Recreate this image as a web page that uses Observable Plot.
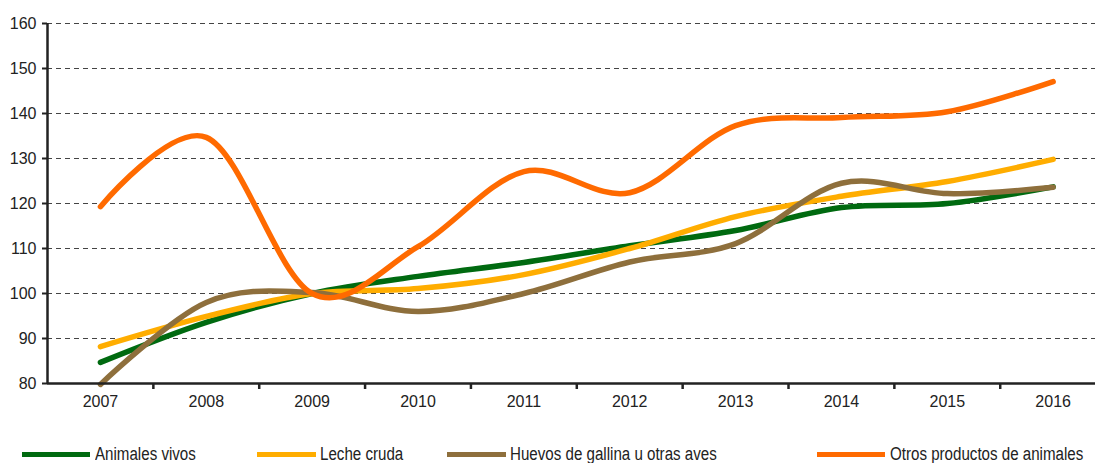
<!DOCTYPE html>
<html>
<head>
<meta charset="utf-8">
<script src="https://cdn.jsdelivr.net/npm/d3@7"></script>
<script src="https://cdn.jsdelivr.net/npm/@observablehq/plot@0.6"></script>
<style>
  html, body { margin: 0; padding: 0; background: #fff; }
  body { width: 1095px; height: 463px; overflow: hidden; position: relative;
         font-family: "Liberation Sans", Arial, sans-serif; }
  #chart { position: absolute; left: 0; top: 0; }
  .leg { position: absolute; top: 444px; font-size: 18px; color: #222; white-space: nowrap; line-height: 20px;
         transform: scaleX(0.84); transform-origin: left center; }
  .sw { position: absolute; top: 452px; height: 5px; }
</style>
</head>
<body>
<div id="chart"></div>
<div id="legend"></div>
<script>
const years = [2007, 2008, 2009, 2010, 2011, 2012, 2013, 2014, 2015, 2016];
const seriesNames = ["Animales vivos", "Leche cruda", "Huevos de gallina u otras aves", "Otros productos de animales"];
const animalesVivos = [84.7, 93.6, 100, 103.8, 106.9, 110.6, 114.0, 119.1, 120.0, 123.7];
const lecheCruda    = [88.2, 94.9, 100, 101.1, 104.2, 110.0, 117.1, 121.6, 124.9, 129.8];
const huevos        = [79.8, 98.0, 100.2, 96.0, 100.0, 107.0, 111.1, 124.5, 122.2, 123.6];
const otros         = [119.3, 134.7, 100.0, 110.4, 127.1, 122.4, 137.3, 139.1, 140.4, 147.1];
const colors = ["#006a10", "#ffad00", "#8e6f3c", "#ff6a00"];
const yTicks = [80, 90, 100, 110, 120, 130, 140, 150, 160];
const seriesValues = [animalesVivos, lecheCruda, huevos, otros];

const data = [];
seriesNames.forEach((name, i) => {
  years.forEach((yr, j) => data.push({series: name, year: yr, value: seriesValues[i][j]}));
});
const sepTicks = years.slice(0, -1).map(y => y + 0.5);

const chart = Plot.plot({
  width: 1095,
  height: 420,
  marginLeft: 47,
  marginRight: 0,
  marginTop: 23,
  marginBottom: 37,
  style: {fontFamily: '"Liberation Sans", Arial, sans-serif', fontSize: "16px", color: "#222", background: "white"},
  x: {domain: [2006.5, 2016.4], axis: null},
  y: {domain: [80, 160], axis: null},
  color: {domain: seriesNames, range: colors},
  marks: [
    Plot.ruleY(yTicks.filter(d => d > 80), {stroke: "#444", strokeWidth: 1, strokeDasharray: "5,4"}),
    Plot.lineY(data, {x: "year", y: "value", stroke: "series", z: "series", strokeWidth: 5.5, curve: "cardinal", tension: 0}),
    Plot.ruleY([80], {stroke: "#222", strokeWidth: 2.5}),
    Plot.ruleX([2006.5], {stroke: "#222", strokeWidth: 2.5}),
    Plot.axisY({ticks: yTicks, tickSize: 5, tickPadding: 6, tickFormat: d => String(d), fontSize: 16, stroke: "#222", strokeWidth: 2, label: null}),
    Plot.axisX({ticks: years, tickSize: 0, tickPadding: 12, tickFormat: d => String(d), fontSize: 16, label: null}),
    Plot.axisX({ticks: sepTicks, tickSize: 6, tickFormat: () => "", stroke: "#222", strokeWidth: 2.5, label: null})
  ]
});
document.getElementById("chart").appendChild(chart);

const legendPos = [
  {sw: [22, 68], tx: 95},
  {sw: [257, 59], tx: 320},
  {sw: [447, 59], tx: 510},
  {sw: [817, 68], tx: 890}
];
const leg = document.getElementById("legend");
seriesNames.forEach((name, i) => {
  const s = document.createElement("div");
  s.className = "sw";
  s.style.left = legendPos[i].sw[0] + "px";
  s.style.width = legendPos[i].sw[1] + "px";
  s.style.background = colors[i];
  leg.appendChild(s);
  const t = document.createElement("div");
  t.className = "leg";
  t.style.left = legendPos[i].tx + "px";
  t.textContent = name;
  leg.appendChild(t);
});
</script>
</body>
</html>
